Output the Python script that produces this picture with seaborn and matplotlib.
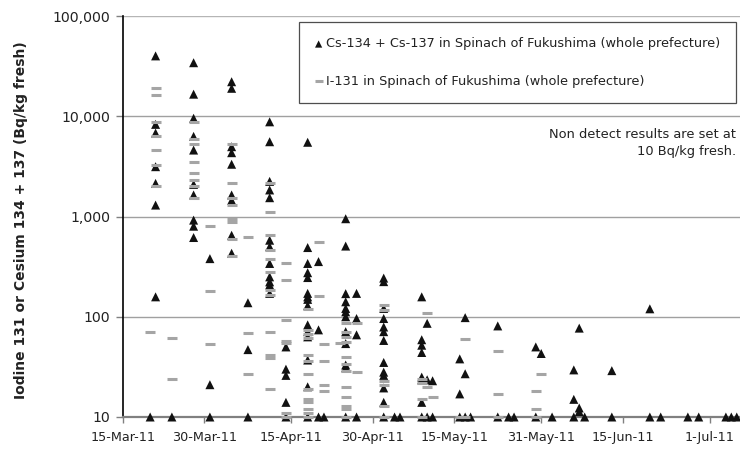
import numpy as np
import pandas as pd
import matplotlib
matplotlib.use("Agg")
import matplotlib.pyplot as plt
import seaborn as sns
from matplotlib.ticker import FixedLocator, NullLocator

# ---------------- data ----------------
cs_dates = ["2011-03-20", "2011-03-21", "2011-03-24", "2011-03-28", "2011-03-31",
            "2011-04-04", "2011-04-07", "2011-04-11", "2011-04-14", "2011-04-18",
            "2011-04-20", "2011-04-21", "2011-04-25", "2011-04-27", "2011-05-02",
            "2011-05-04", "2011-05-05", "2011-05-09", "2011-05-10", "2011-05-11",
            "2011-05-16", "2011-05-17", "2011-05-18", "2011-05-23", "2011-05-25",
            "2011-05-26", "2011-05-30", "2011-05-31", "2011-06-02", "2011-06-06",
            "2011-06-07", "2011-06-08", "2011-06-13", "2011-06-20", "2011-06-22",
            "2011-06-27", "2011-06-29", "2011-07-04", "2011-07-05", "2011-07-06"]
cs_values = [
    [10],
    [40000, 8300, 6800, 3140, 2140, 1300, 158],
    [10],
    [34200, 16600, 9550, 6300, 4600, 2090, 1640, 920, 800, 617],
    [380, 21, 10],
    [22100, 19000, 4970, 4330, 3320, 1640, 1450, 650, 430],
    [138, 47, 10],
    [8800, 5570, 2240, 1840, 1540, 580, 500, 340, 250, 223, 208, 171],
    [50, 30, 26, 14, 10],
    [5500, 490, 340, 275, 246, 171, 158, 149, 129, 83, 71, 63, 37, 20, 10],
    [355, 74, 10],
    [10],
    [950, 507, 170, 141, 121, 112, 100, 71, 54, 33, 31, 10],
    [171, 96, 66, 10],
    [243, 224, 121, 96, 79, 71, 58, 35, 28, 26, 19.5, 14, 10],
    [10],
    [10],
    [158, 59, 52, 44, 25, 23.5, 14, 10],
    [86, 23.5, 10],
    [23, 10],
    [38, 17, 10],
    [98, 27, 10],
    [10],
    [81, 10],
    [10],
    [10],
    [50, 10],
    [43],
    [10],
    [29.5, 15, 10],
    [77, 12.3, 11.3],
    [10],
    [29, 10],
    [120, 10],
    [10],
    [10],
    [10],
    [10],
    [10],
    [10],
]

i131_dates = ["2011-03-20", "2011-03-21", "2011-03-24", "2011-03-28", "2011-03-31",
              "2011-04-04", "2011-04-07", "2011-04-11", "2011-04-14", "2011-04-18",
              "2011-04-20", "2011-04-21", "2011-04-24", "2011-04-25", "2011-04-27",
              "2011-05-02", "2011-05-09", "2011-05-10", "2011-05-11", "2011-05-16",
              "2011-05-17", "2011-05-23", "2011-05-30", "2011-05-31"]
i131_values = [
    [70],
    [19300, 16200, 8700, 6300, 4650, 3240, 2000],
    [62, 24],
    [8800, 5900, 5250, 3520, 2730, 2310, 2000, 1520],
    [800, 180, 54],
    [5300, 2170, 1520, 1300, 955, 890, 600, 400],
    [620, 69, 27],
    [2150, 1120, 650, 460, 380, 280, 185, 165, 71, 42, 39, 19],
    [340, 233, 93, 57, 55, 11, 10],
    [119, 74, 67, 61, 42, 36, 27, 19, 15, 14, 12, 11, 10],
    [560, 160],
    [53, 36, 21, 18],
    [55],
    [86, 70, 63, 56, 40, 34, 29, 20, 16, 13, 12, 10],
    [87, 28],
    [132, 117, 23, 21, 13, 10],
    [24, 22, 15, 10],
    [110, 20],
    [16],
    [10],
    [60, 10],
    [46, 17, 10],
    [18, 12, 10],
    [27],
]

cs_label = "Cs-134 + Cs-137 in Spinach of Fukushima (whole prefecture)"
i131_label = "I-131 in Spinach of Fukushima (whole prefecture)"

tick_dates = ["2011-03-15", "2011-03-30", "2011-04-15", "2011-04-30",
              "2011-05-15", "2011-05-31", "2011-06-15", "2011-07-01"]
tick_labels = ["15-Mar-11", "30-Mar-11", "15-Apr-11", "30-Apr-11",
               "15-May-11", "31-May-11", "15-Jun-11", "1-Jul-11"]
y_ticks = [10, 100, 1000, 10000, 100000]
y_tick_labels = ["10", "100", "1,000", "10,000", "100,000"]


def expand(dates, values):
    rows = [(pd.Timestamp(d), v) for d, vs in zip(dates, values) for v in vs]
    return pd.DataFrame(rows, columns=["date", "value"])


origin = pd.Timestamp("2011-03-15")
cs_df = expand(cs_dates, cs_values)
i_df = expand(i131_dates, i131_values)
cs_df["day"] = (cs_df["date"] - origin).dt.days
i_df["day"] = (i_df["date"] - origin).dt.days
tick_days = [(pd.Timestamp(d) - origin).days for d in tick_dates]

# ---------------- figure ----------------
sns.set_theme(style="white")
plt.rcParams["font.family"] = ["DejaVu Sans"]

fig = plt.figure(figsize=(7.4, 4.5), dpi=100)
ax = fig.add_axes([123 / 740, 33 / 450, 617 / 740, 401 / 450])

sns.scatterplot(data=cs_df, x="day", y="value", ax=ax, marker="^", s=42,
                color="#111111", edgecolor="none", linewidth=0, clip_on=False,
                zorder=3, label=cs_label)
sns.scatterplot(data=i_df, x="day", y="value", ax=ax, marker="_", s=60,
                color="#a5a5a5", linewidth=2.2, clip_on=False, zorder=4,
                label=i131_label)

ax.set_yscale("log")
ax.set_ylim(10, 100000)
ax.set_xlim(0, 113.6)

ax.yaxis.set_major_locator(FixedLocator(y_ticks))
ax.yaxis.set_minor_locator(NullLocator())
ax.set_yticklabels(y_tick_labels)
ax.set_xticks(tick_days)
ax.set_xticklabels(tick_labels)

for v in y_ticks[1:]:
    ax.axhline(v, color="#b5b5b5" if v == 100000 else "#a0a0a0", lw=1.0, zorder=1)

for s in ["top", "right"]:
    ax.spines[s].set_visible(False)
ax.spines["left"].set_color("#000000")
ax.spines["left"].set_linewidth(1.2)
ax.spines["bottom"].set_color("#808080")
ax.spines["bottom"].set_linewidth(1.6)

ax.tick_params(axis="y", which="major", direction="out", length=5, width=1,
               color="#808080", labelsize=10.2, labelcolor="#222222", pad=4, left=True)
ax.tick_params(axis="x", which="major", direction="out", length=4, width=1,
               color="#808080", labelsize=9.2, labelcolor="#222222", pad=6, bottom=True)

ax.set_xlabel("")
ax.set_ylabel("Iodine 131 or Cesium 134 + 137 (Bq/kg fresh)", fontsize=10,
              fontweight="bold", color="#222222")
ax.yaxis.set_label_coords(-95 / 617, 0.49)

leg = ax.legend(loc="upper right", bbox_to_anchor=(613 / 617, 1 - 6 / 401),
                borderaxespad=0, frameon=True, fancybox=False, fontsize=9.25,
                handlelength=0.6, handletextpad=0.3, labelspacing=1.9,
                borderpad=1.2, markerscale=0.8)
leg.get_frame().set_edgecolor("#222222")
leg.get_frame().set_linewidth(0.9)
for t in leg.get_texts():
    t.set_color("#222222")

fig.text(736 / 740, 1 - 143 / 450, "Non detect results are set at\n10 Bq/kg fresh.",
         ha="right", va="center", fontsize=9.4, color="#222222", linespacing=1.3)

fig.savefig("out.png", dpi=100)
